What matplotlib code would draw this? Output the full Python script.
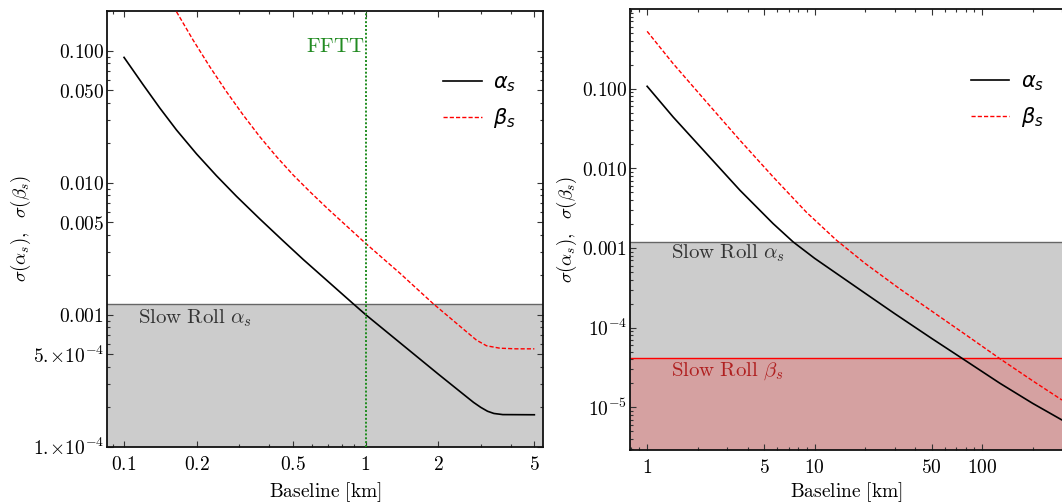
import numpy as np
import matplotlib
matplotlib.use("Agg")
import matplotlib.pyplot as plt
from matplotlib.ticker import FixedLocator, FixedFormatter, LogLocator, NullFormatter

plt.rcParams["mathtext.fontset"] = "cm"

# Short-baseline run (km) and forecast errors
baseline_short = [0.1, 0.1199, 0.1406, 0.1648, 0.1995, 0.2414, 0.2921, 0.3648, 0.4557,
                  0.5514, 0.888, 1.0, 2.0, 2.5, 2.8, 3.0, 3.2, 3.4, 3.7, 5.0]
alpha_short = [0.089, 0.0553, 0.0368, 0.0251, 0.01653, 0.01128, 0.00788, 0.00531,
               0.00362, 0.00262, 0.00121, 0.0010, 3.54e-4, 2.55e-4, 2.16e-4, 1.98e-4,
               1.85e-4, 1.78e-4, 1.745e-4, 1.74e-4]
baseline_short_b = [0.16, 0.1931, 0.2265, 0.2656, 0.3112, 0.3648, 0.4279, 0.5013,
                    0.5878, 0.6999, 1.0, 1.387, 1.905, 2.62, 2.88, 3.17, 3.6, 4.2, 5.0]
beta_short = [0.217, 0.1205, 0.0756, 0.0489, 0.0326, 0.0223, 0.01574, 0.01144, 0.00855,
              0.0063, 0.00347, 0.00206, 0.00121, 7.4e-4, 6.4e-4, 5.8e-4, 5.56e-4,
              5.5e-4, 5.5e-4]

# Long-baseline run (km)
baseline_long = [1.0, 1.43, 2.26, 3.58, 5.65, 7.44, 10, 20, 30, 50, 76, 127.6, 200, 300]
alpha_long = [0.107, 0.044, 0.0153, 5.3e-3, 2.02e-3, 1.19e-3, 7.4e-4, 2.7e-4, 1.5e-4,
              7.3e-5, 4.1e-5, 2.0e-5, 1.12e-5, 6.9e-6]
baseline_long_b = [1.0, 1.43, 2.26, 3.58, 5.65, 8.94, 13.5, 20, 32.3, 50, 80.7, 127.6,
                   200, 300]
beta_long = [0.524, 0.206, 0.068, 0.0225, 7.8e-3, 2.8e-3, 1.25e-3, 6.4e-4, 3.05e-4,
             1.61e-4, 8.0e-5, 4.07e-5, 2.15e-5, 1.23e-5]

# slow-roll expectations
slow_roll_alpha = 1.2e-3
slow_roll_beta = 4.1e-5
fftt_baseline = 1.0

# tick positions / labels
xt_short = [0.1, 0.2, 0.5, 1, 2, 5]
xl_short = ["$0.1$", "$0.2$", "$0.5$", "$1$", "$2$", "$5$"]
yt_short = [1e-4, 5e-4, 1e-3, 5e-3, 1e-2, 5e-2, 0.1]
yl_short = [r"$1.\!\!\times\!10^{-4}$", r"$5.\!\!\times\!10^{-4}$", "$0.001$", "$0.005$",
            "$0.010$", "$0.050$", "$0.100$"]
xt_long = [1, 5, 10, 50, 100]
xl_long = ["$1$", "$5$", "$10$", "$50$", "$100$"]
yt_long = [1e-5, 1e-4, 1e-3, 1e-2, 0.1]
yl_long = ["$10^{-5}$", "$10^{-4}$", "$0.001$", "$0.010$", "$0.100$"]

W, H = 1062, 504
fig = plt.figure(figsize=(W / 100, H / 100), dpi=100)
ax1 = fig.add_axes([107 / W, 1 - 446.5 / H, 436 / W, 435.5 / H])
ax2 = fig.add_axes([630 / W, 1 - 450 / H, 432 / W, 441 / H])


def style_axes(ax, xt, xl, yt, yl, right=True):
    ax.set_xscale("log")
    ax.set_yscale("log")
    ax.xaxis.set_major_locator(FixedLocator(xt))
    ax.xaxis.set_major_formatter(FixedFormatter(xl))
    ax.yaxis.set_major_locator(FixedLocator(yt))
    ax.yaxis.set_major_formatter(FixedFormatter(yl))
    ax.xaxis.set_minor_locator(LogLocator(base=10, subs=np.arange(2, 10), numticks=100))
    ax.yaxis.set_minor_locator(LogLocator(base=10, subs=np.arange(2, 10), numticks=100))
    ax.xaxis.set_minor_formatter(NullFormatter())
    ax.yaxis.set_minor_formatter(NullFormatter())
    ax.tick_params(which="both", direction="in", top=True, right=right,
                   color="#333333", width=0.8, labelsize=14)
    ax.tick_params(which="major", length=4.5)
    ax.tick_params(which="minor", length=2.5)
    ax.tick_params(axis="x", pad=6)
    ax.tick_params(axis="y", pad=2)
    for s in ax.spines.values():
        s.set_linewidth(1.3)
        s.set_color("#111111")
    if not right:
        ax.spines["right"].set_visible(False)
    ax.set_xlabel(r"$\mathrm{Baseline\ [km]}$", fontsize=14)
    ax.set_ylabel(r"$\sigma(\alpha_s),\ \ \sigma(\beta_s)$", fontsize=13.5)


# left panel
ax1.axhspan(1e-12, slow_roll_alpha, color="#cccccc", lw=0, zorder=0)
ax1.axhline(slow_roll_alpha, color="#666666", lw=1.0, zorder=1)
ax1.plot(baseline_short, alpha_short, color="black", lw=1.2, label=r"$\alpha_s$", zorder=3)
ax1.plot(baseline_short_b, beta_short, color="red", lw=1.0, dashes=(3.0, 1.5),
         label=r"$\beta_s$", zorder=3)
ax1.axvline(fftt_baseline, color="#1e8c1e", lw=1.4, ls=(0, (1, 1)), zorder=4)
ax1.text(0.99, 0.098, r"$\mathrm{FFTT}$", color="#228b22", fontsize=15,
         ha="right", va="baseline")
ax1.text(0.114, 8.5e-4, r"$\mathrm{Slow\ Roll}\ \alpha_s$", color="#333333",
         fontsize=15, va="baseline")
ax1.set_xlim(0.085, 5.43)
ax1.set_ylim(1e-4, 0.2)
style_axes(ax1, xt_short, xl_short, yt_short, yl_short)
ax1.xaxis.set_label_coords(0.5, -0.077)
ax1.yaxis.set_label_coords(-0.170, 0.5)

# right panel
ax2.axhspan(1e-12, slow_roll_alpha, color="#cccccc", lw=0, zorder=0)
ax2.axhline(slow_roll_alpha, color="#666666", lw=1.0, zorder=1)
ax2.axhspan(1e-12, slow_roll_beta, color="#d5a1a1", lw=0, zorder=1)
ax2.axhline(slow_roll_beta, color="red", lw=1.0, zorder=2)
ax2.plot(baseline_long, alpha_long, color="black", lw=1.2, label=r"$\alpha_s$", zorder=3)
ax2.plot(baseline_long_b, beta_long, color="red", lw=1.0, dashes=(3.0, 1.5),
         label=r"$\beta_s$", zorder=3)
ax2.text(1.38, 7.43e-4, r"$\mathrm{Slow\ Roll}\ \alpha_s$", color="#333333",
         fontsize=15, va="baseline")
ax2.text(1.38, 2.48e-5, r"$\mathrm{Slow\ Roll}\ \beta_s$", color="#b02020",
         fontsize=15, va="baseline")
ax2.set_xlim(0.79, 300)
ax2.set_ylim(2.9e-6, 1.0)
style_axes(ax2, xt_long, xl_long, yt_long, yl_long, right=False)
ax2.xaxis.set_label_coords(0.5, -0.068)
ax2.yaxis.set_label_coords(-0.118, 0.5)

for ax, (xa, ya) in [(ax1, (0.771, 0.86)), (ax2, (0.789, 0.859))]:
    leg = ax.legend(loc="upper left", bbox_to_anchor=(xa, ya), frameon=False,
                    handlelength=1.85, handletextpad=0.55, labelspacing=0.6,
                    fontsize=15, borderaxespad=0, borderpad=0)
    for t in leg.get_texts():
        t.set_math_fontfamily("dejavusans")

fig.savefig("out.png", dpi=100)
